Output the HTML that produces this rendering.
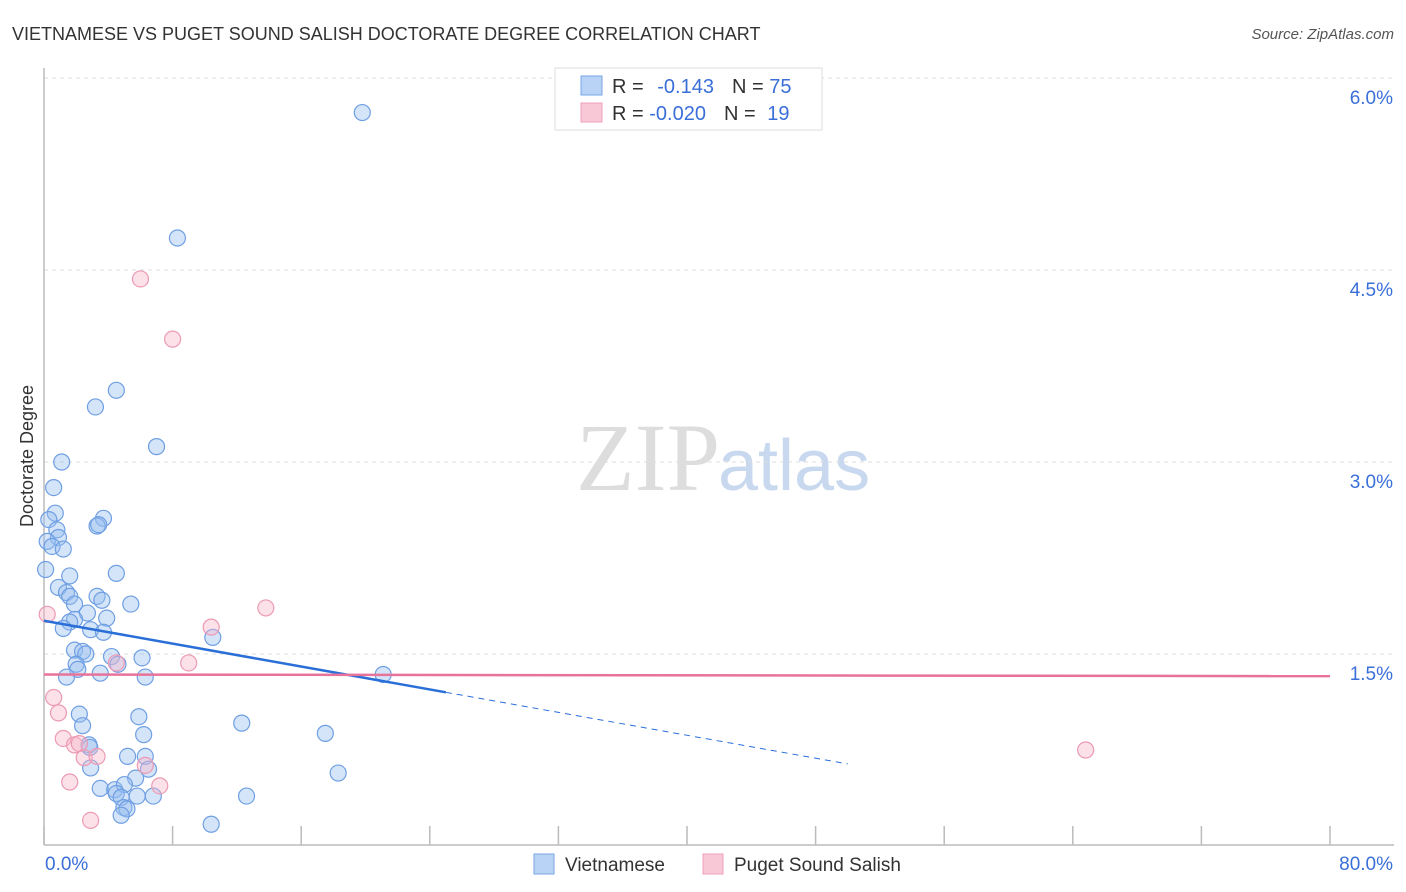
<!DOCTYPE html>
<html><head><meta charset="utf-8"><style>
body{margin:0;width:1406px;height:892px;background:#fff;font-family:"Liberation Sans",sans-serif;overflow:hidden}
svg{position:absolute;left:0;top:0}
</style></head><body>
<svg id="c" width="1406" height="892">
<text x="12" y="40" font-size="18" fill="#333">VIETNAMESE VS PUGET SOUND SALISH DOCTORATE DEGREE CORRELATION CHART</text>
<text x="1394" y="39" font-size="15" fill="#555" font-style="italic" text-anchor="end">Source: ZipAtlas.com</text>
<text x="720" y="490" font-size="96" fill="#ddd" text-anchor="end" font-family="Liberation Serif,serif">ZIP</text>
<text x="718" y="490" font-size="72" fill="#c8d8ee">atlas</text>
<text transform="translate(33,456) rotate(-90)" font-size="18" fill="#333" text-anchor="middle">Doctorate Degree</text>
<g id="grid"></g><g id="pts"></g><g id="lines"></g>
<g>
<rect x="555" y="68" width="267" height="62" fill="#fff" stroke="#ddd"/>
<rect x="581" y="76" width="21" height="19" fill="#b8d3f5" stroke="#7aa6e6"/>
<rect x="581" y="103" width="21" height="19" fill="#f9c8d6" stroke="#eea0b8"/>
<text x="612" y="93" font-size="20" fill="#333">R = <tspan fill="#3a6fd8" dx="8">-0.143</tspan><tspan fill="#333" dx="18">N = </tspan><tspan fill="#3a6fd8">75</tspan></text>
<text x="612" y="120" font-size="20" fill="#333">R = <tspan fill="#3a6fd8">-0.020</tspan><tspan fill="#333" dx="18">N = </tspan><tspan fill="#3a6fd8" dx="6">19</tspan></text>
</g>
<g>
<rect x="534" y="854" width="20" height="20" fill="#b8d3f5" stroke="#7aa6e6"/>
<text x="565" y="871" font-size="19" fill="#333">Vietnamese</text>
<rect x="703" y="854" width="20" height="20" fill="#f9c8d6" stroke="#eea0b8"/>
<text x="734" y="871" font-size="19" fill="#333">Puget Sound Salish</text>
</g>
</svg>
<script>
const xTicks=[0,8,16,24,32,40,48,56,64,72,80];
const yTicks=[1.5,3.0,4.5,6.0];
const yTickLabels=["1.5%","3.0%","4.5%","6.0%"];
const blueX=[19.8,8.3,4.5,3.2,7.0,1.1,0.6,0.7,0.3,0.8,0.9,3.7,3.3,3.4,0.2,0.5,1.2,0.1,4.5,1.6,0.9,1.4,1.6,3.3,3.6,1.9,5.4,2.7,1.9,3.9,1.6,1.2,2.9,3.7,10.5,1.9,2.4,2.6,4.2,6.1,2.0,4.6,2.1,3.5,1.4,6.3,21.1,2.2,5.9,2.4,12.3,17.5,6.2,2.8,5.2,6.3,2.9,6.5,5.7,18.3,3.5,4.4,5.0,4.5,4.8,5.8,6.8,12.6,4.97,5.16,4.8,10.4,2.85];
const blueY=[5.73,4.75,3.56,3.43,3.12,3.0,2.8,2.6,2.55,2.47,2.41,2.56,2.50,2.51,2.38,2.34,2.32,2.16,2.13,2.11,2.02,1.98,1.95,1.95,1.92,1.89,1.89,1.82,1.77,1.78,1.75,1.70,1.69,1.67,1.63,1.53,1.52,1.50,1.48,1.47,1.42,1.42,1.38,1.35,1.32,1.32,1.34,1.03,1.01,0.94,0.96,0.88,0.87,0.79,0.70,0.70,0.61,0.60,0.53,0.57,0.45,0.44,0.48,0.41,0.38,0.39,0.39,0.39,0.30,0.29,0.24,0.17,0.77];
const pinkX=[6.0,8.0,13.8,10.4,0.2,9.0,4.5,0.6,0.9,1.2,1.9,2.2,2.5,3.3,6.3,7.2,1.6,2.9,64.8];
const pinkY=[4.43,3.96,1.86,1.71,1.81,1.43,1.43,1.16,1.04,0.84,0.79,0.80,0.69,0.70,0.63,0.47,0.50,0.20,0.75];
const blueLine=[1.76,-0.179];   // intercept (%), slope per 8%
const pinkLine=[1.34,-0.0013];
const X=v=>44+v/80*1286, Y=v=>846-v*128;
const NS="http://www.w3.org/2000/svg";
function mk(t,a,p){const e=document.createElementNS(NS,t);for(const k in a)e.setAttribute(k,a[k]);p.appendChild(e);return e;}
const g=document.getElementById('grid');
yTicks.forEach((v,i)=>{
 const l=mk('line',{x1:44,x2:1394,y1:Y(v),y2:Y(v),stroke:'#ddd','stroke-dasharray':'4,4'},g);
 
 
 const t=mk('text',{x:1393,y:Y(v)+26,'font-size':19,fill:'#3a6fd8','text-anchor':'end'},g);t.textContent=yTickLabels[i];
 
 
});
const ax=mk('line',{x1:44,x2:1394,y1:845,y2:845,stroke:'#bbb','stroke-width':1.5},g);


const ay=mk('line',{x1:44,x2:44,y1:68,y2:845,stroke:'#bbb','stroke-width':1.5},g);


xTicks.forEach(v=>{const t=mk('line',{x1:X(v),x2:X(v),y1:826,y2:845,stroke:'#bbb','stroke-width':1.5},g);
 
 });
const t0=mk('text',{x:45,y:870,'font-size':19,fill:'#3a6fd8'},g);t0.textContent='0.0%';


const t1=mk('text',{x:1393,y:870,'font-size':19,fill:'#3a6fd8','text-anchor':'end'},g);t1.textContent='80.0%';


const P=document.getElementById('pts');
blueX.forEach((x,i)=>{const c=mk('circle',{cx:X(x),cy:Y(blueY[i]),r:8,fill:'rgba(150,190,240,0.4)',stroke:'#6f9fe3','stroke-width':1.2},P);
 
 });
pinkX.forEach((x,i)=>{const c=mk('circle',{cx:X(x),cy:Y(pinkY[i]),r:8,fill:'rgba(248,180,200,0.4)',stroke:'#ec9ab4','stroke-width':1.2},P);
 
 });
const L=document.getElementById('lines');
const by=x=>blueLine[0]+blueLine[1]*x/8, py=x=>pinkLine[0]+pinkLine[1]*x/8;
const b1=mk('line',{x1:X(0),y1:Y(by(0)),x2:X(25),y2:Y(by(25)),stroke:'#2a6fd8','stroke-width':2.5},L);


const b2=mk('line',{x1:X(25),y1:Y(by(25)),x2:X(50),y2:Y(by(50)),stroke:'#2a6fd8','stroke-width':1,'stroke-dasharray':'6,5'},L);


const p1=mk('line',{x1:X(0),y1:Y(py(0)),x2:X(80),y2:Y(py(80)),stroke:'#e8739a','stroke-width':2.5},L);


</script>
</body></html>
